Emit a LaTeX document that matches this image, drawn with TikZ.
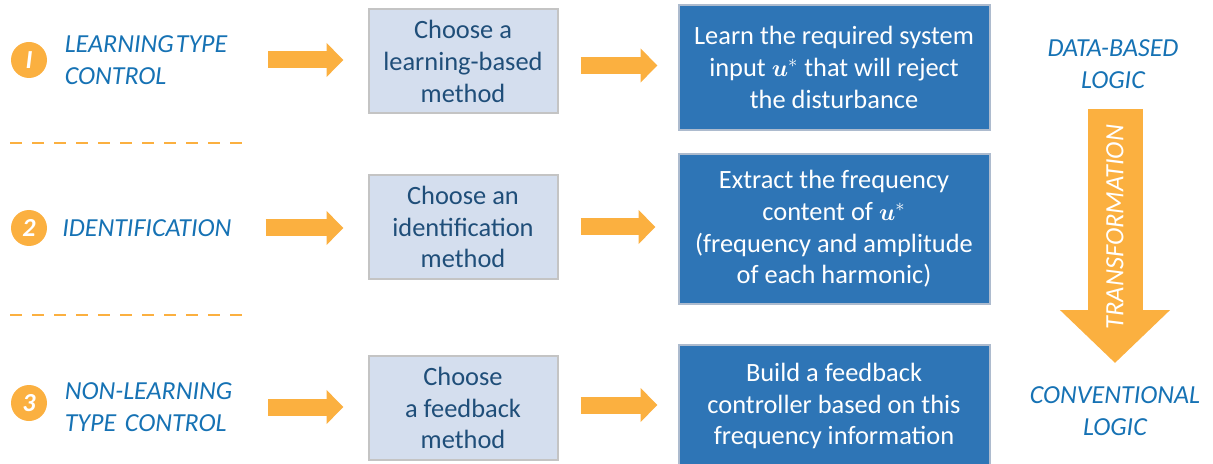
\documentclass[tikz,border=0pt]{standalone}
\usepackage{fontspec}
\setmainfont{Carlito}
\usepackage{amsmath}
\usepackage{bm}
\usepackage{xcolor}
\usepackage{tikz}
\usetikzlibrary{arrows.meta, positioning}

\definecolor{orangeA}{HTML}{FBB040}
\definecolor{headblue}{HTML}{1672B4}
\definecolor{lightfill}{HTML}{D4DEEE}
\definecolor{boxgray}{HTML}{C4C4C4}
\definecolor{darktext}{HTML}{1F4E79}
\definecolor{darkfill}{HTML}{2E75B6}
\definecolor{darkedge}{HTML}{ADBBCE}

\begin{document}
\begin{tikzpicture}[
    x=0.5pt, y=-0.5pt,
    num/.style={circle, fill=orangeA, minimum size=18pt, inner sep=0pt, text=white, font=\bfseries\itshape\fontsize{13}{15}\selectfont},
    heading/.style={text=headblue, inner sep=0pt, align=center, font=\itshape\fontsize{13}{16}\selectfont},
    rowhead/.style={heading, align=left, text width=90pt},
    box/.style={rectangle, draw, line width=1pt, align=center, font=\fontsize{13.2}{15.8}\selectfont},
    lightbox/.style={box, draw=boxgray, fill=lightfill, text=darktext, minimum width=94.5pt, minimum height=52pt},
    darkbox/.style={box, draw=darkedge, fill=darkfill, text=white, minimum width=155.5pt},
    fatarrow/.style={draw=orangeA, line width=8.5pt, -{Triangle[width=16.5pt, length=8.5pt]}},
    bigarrow/.style={draw=orangeA, line width=27.5pt, -{Triangle[width=53.5pt, length=26.5pt]}},
    divider/.style={draw=orangeA, line width=1pt, dash pattern=on 6pt off 5pt},
]
\useasboundingbox (0,0) rectangle (1213,464);

% numbers and row titles
\node[num] (num1) at (29,60) {I};
\node[num] (num2) at (29,228) {2};
\node[num] (num3) at (29,403) {3};
\node[rowhead, right=8.5pt of num1] (learn) {LEARNING\hspace{0.08em}TYPE\\CONTROL};
\node[rowhead, right=7.25pt of num2] (ident) {IDENTIFICATION};
\node[rowhead, right=8.5pt of num3, yshift=-2pt] (nonlearn) {NON-LEARNING\\TYPE CONTROL};

% separators
\draw[divider] (10,143) -- (245,143);
\draw[divider] (10,315) -- (245,315);

% method boxes
\node[lightbox] (choose1) at (463,61.5) {Choose a\\learning-based\\method};
\node[lightbox] (choose2) at (463,227) {Choose an\\identification\\method};
\node[lightbox] (choose3) at (463,408) {Choose\\a feedback\\method};

% action boxes
\node[darkbox, minimum height=62.5pt] (learnu) at (834,67.5) {Learn the required system\\input $\bm{u}^{*}$ that will reject\\the disturbance};
\node[darkbox, minimum height=75pt] (extract) at (834,229) {Extract the frequency\\content of $\bm{u}^{*}$\\(frequency and amplitude\\of each harmonic)};
\node[darkbox, minimum height=61pt] (build) at (834,406) {Build a feedback\\controller based on this\\frequency information};

% logic labels
\node[heading] (datalogic) at (1113,64) {DATA-BASED\\LOGIC};
\node[heading] (convlogic) at (1115,411) {CONVENTIONAL\\LOGIC};

% arrows
\draw[fatarrow, shorten <=11.5pt, shorten >=12pt] (learn.east) -- (learn.east -| choose1.west);
\draw[fatarrow, shorten <=11.5pt, shorten >=12pt] (ident.east) -- (ident.east -| choose2.west);
\draw[fatarrow, shorten <=11.5pt, shorten >=12pt] (nonlearn.east) -- (nonlearn.east -| choose3.west);
\draw[fatarrow, shorten <=11pt, shorten >=11pt] (choose1.east) ++(0,4) -- ++(121,0);
\draw[fatarrow, shorten <=11pt, shorten >=11pt] (choose2.east) -- (choose2.east -| extract.west);
\draw[fatarrow, shorten <=11pt, shorten >=11pt] (choose3.east) ++(0,-3) -- ++(121,0);
\draw[bigarrow, shorten <=22.5pt, shorten >=24pt] (datalogic.center -| 1115,0) -- node[pos=0.47, rotate=90, text=white, font=\itshape\fontsize{13.2}{15}\selectfont] (transf) {TRANSFORMATION} (convlogic.center);

\end{tikzpicture}
\end{document}
